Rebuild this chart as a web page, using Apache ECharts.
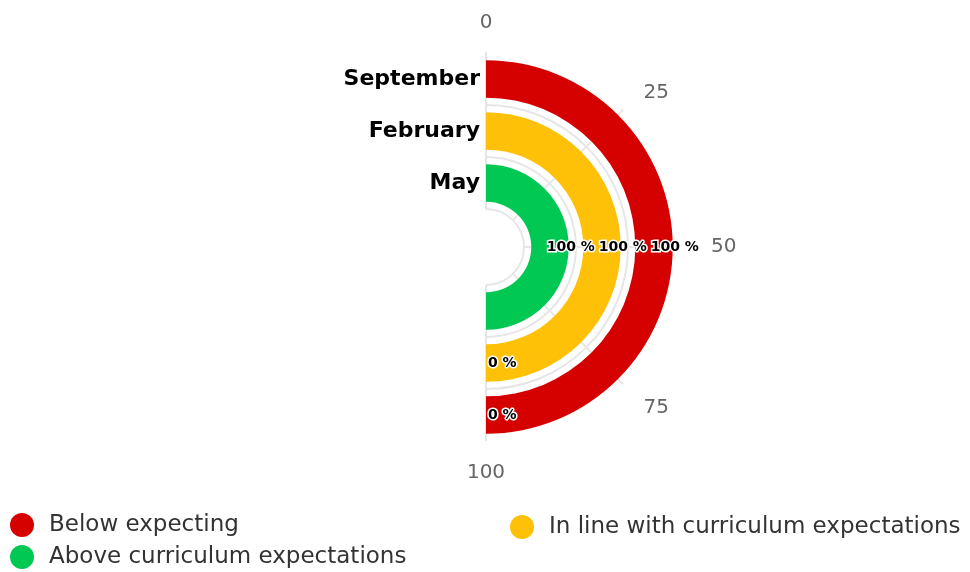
<!DOCTYPE html>
<html><head><meta charset="utf-8">
<script src="https://cdn.jsdelivr.net/npm/echarts@6/dist/echarts.min.js"></script>
<style>html,body{margin:0;padding:0;background:#fff}#c{width:970px;height:572px}</style>
</head><body><div id="c"></div>
<script>
// ---- data ----
const categories = ['May', 'February', 'September'];           // inner -> outer
const seriesNames = ['Below expecting', 'In line with curriculum expectations', 'Above curriculum expectations'];
const belowValues = [0, 0, 100];
const inLineValues = [0, 100, 0];
const aboveValues = [100, 0, 0];
const angleTicks = [0, 25, 50, 75, 100];
const seriesColors = ['#d50000', '#ffc107', '#00c853'];

// ---- layout ----
const FONT = '"DejaVu Sans", Verdana, sans-serif';
const CX = 486, CY = 247, R0 = 38, R1 = 194;
const BAR_FRAC = 0.72;
const bandW = (R1 - R0) / categories.length;
const halfBar = bandW * BAR_FRAC / 2;
const GRID = '#e6e6e6';

const allValues = [belowValues, inLineValues, aboveValues];
const total = categories.map((_, i) => allValues.reduce((s, a) => s + a[i], 0));

function buildData(si) {
  return allValues[si].map((v, i) => {
    if (v > 0) {
      return { value: v, label: { show: true, position: 'middle', offset: [halfBar + 2, 0] } };
    }
    // zero value: show only the first zero segment stacked at the end of the ring
    let cum = 0; for (let k = 0; k < si; k++) cum += allValues[k][i];
    let firstAtEnd = cum === total[i];
    if (firstAtEnd) {
      for (let k = 0; k < si; k++) {
        let c2 = 0; for (let j = 0; j < k; j++) c2 += allValues[j][i];
        if (allValues[k][i] === 0 && c2 === total[i]) firstAtEnd = false;
      }
    }
    return { value: v, label: { show: firstAtEnd, position: 'middle', align: 'left', offset: [2, 0] } };
  });
}

// per-tick label nudges (rich styles)
const angleRich = {
  t0: { padding: [0, 0, 1, 0] }, t25: { padding: [0, 0, -6, 7] }, t50: { padding: [0, 0, 0, 12] },
  t75: { padding: [0, 0, 0, 7] }, t100: { padding: [3, 0, 0, 0] }
};
Object.keys(angleRich).forEach(k => Object.assign(angleRich[k], { fontFamily: FONT, fontSize: 20, color: '#666' }));

// circles at band boundaries except the outermost one
const radiusSplitColors = categories.map(() => GRID).concat(['rgba(0,0,0,0)']);

const chart = echarts.init(document.getElementById('c'), null, { renderer: 'canvas' });
const legendBase = {
  icon: 'circle', itemWidth: 24, itemHeight: 24, padding: 0, selectedMode: false,
  textStyle: { fontFamily: FONT, fontSize: 23, color: '#333', padding: [0, 0, 0, 10] }
};
chart.setOption({
  animation: false,
  color: seriesColors,
  polar: { center: [CX, CY], radius: [R0, R1] },
  angleAxis: {
    type: 'value', min: 0, max: 100, interval: 25, startAngle: 90, endAngle: -90,
    axisLine: { show: false }, axisTick: { show: false },
    axisLabel: {
      margin: 19, fontFamily: FONT, fontSize: 20, color: '#666',
      formatter: v => '{t' + v + '|' + v + '}', rich: angleRich
    },
    splitLine: { show: true, lineStyle: { color: GRID, width: 2 } }
  },
  radiusAxis: {
    type: 'category', data: categories,
    axisLine: { show: true, lineStyle: { color: GRID, width: 2 } },
    axisTick: { show: false },
    axisLabel: { interval: 0, fontFamily: FONT, fontSize: 22, fontWeight: 'bold', color: '#000', margin: 6 },
    splitLine: { show: true, lineStyle: { color: radiusSplitColors, width: 2 } }
  },
  legend: [
    Object.assign({ data: [seriesNames[0]], left: 10, top: 513 }, legendBase),
    Object.assign({ data: [seriesNames[1]], left: 510, top: 515 }, legendBase),
    Object.assign({ data: [seriesNames[2]], left: 10, top: 545 }, legendBase)
  ],
  series: seriesNames.map((name, si) => ({
    type: 'bar', coordinateSystem: 'polar', name, stack: 'total',
    barWidth: (BAR_FRAC * 100) + '%',
    data: buildData(si),
    label: {
      formatter: '{c} %', rotate: 0, fontFamily: FONT, fontSize: 14, fontWeight: 'bold', color: '#000',
      textBorderColor: '#fff', textBorderWidth: 3
    }
  }))
});
</script></body></html>
